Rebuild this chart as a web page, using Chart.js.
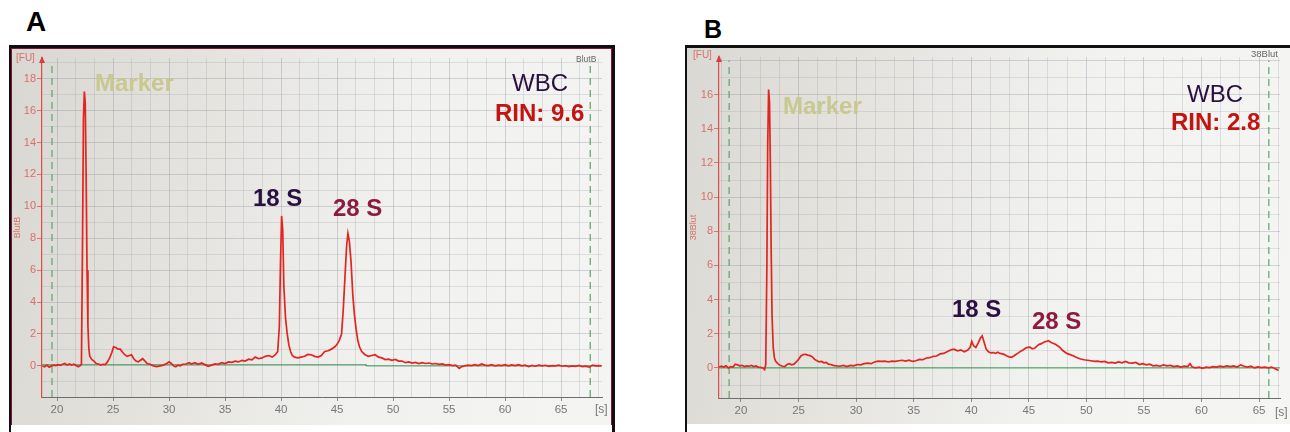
<!DOCTYPE html>
<html><head><meta charset="utf-8">
<script src="https://cdn.jsdelivr.net/npm/chart.js@4.4.1/dist/chart.umd.min.js"></script>
<style>
html,body{margin:0;padding:0;background:#fff;width:1290px;height:432px;overflow:hidden;position:relative;font-family:"Liberation Sans",Arial,sans-serif;}
.abs{position:absolute;white-space:nowrap;line-height:1;}
#frameA{position:absolute;left:9px;top:45px;width:601px;height:400px;border-style:solid;border-color:#140c12;border-width:3px 3px 0 2px;}
#grayA{position:absolute;left:11px;top:48px;width:601px;height:377px;background:linear-gradient(100deg,#d8d7d1 0%,#e4e3de 30%,#f1f1ef 62%,#f4f4f2 100%);box-shadow:inset 1px 1px 0 #7a1a38,inset -1px 0 0 #7a1a38;}
#frameB{position:absolute;left:685px;top:45px;width:610px;height:400px;border-style:solid;border-color:#111;border-width:3px 0 0 2px;}
#grayB{position:absolute;left:687px;top:48px;width:603px;height:376px;background:linear-gradient(100deg,#d9d8d2 0%,#e5e4df 30%,#f2f2f0 62%,#f5f5f3 100%);}
canvas{position:absolute;}
.big{font-size:24px;}
.b{font-weight:bold;}
</style>
</head><body>
<div id="frameA"></div><div id="grayA"></div>
<div id="frameB"></div><div id="grayB"></div>
<canvas id="cA" width="599" height="376" style="left:12px;top:49px;"></canvas>
<canvas id="cB" width="602" height="375" style="left:688px;top:49px;"></canvas>

<div class="abs b" style="left:26px;top:8.3px;font-size:28px;color:#000;">A</div>
<div class="abs b" style="left:704px;top:17px;font-size:25px;color:#000;">B</div>

<div class="abs big b" style="left:95px;top:71px;color:#c8c890;">Marker</div>
<div class="abs big b" style="left:253px;top:186px;color:#2a1040;">18 S</div>
<div class="abs big b" style="left:333px;top:196px;color:#8e1a42;">28 S</div>
<div class="abs big" style="left:512px;top:71px;color:#2a1040;">WBC</div>
<div class="abs big b" style="left:495px;top:101px;color:#c4140f;">RIN: 9.6</div>

<div class="abs big b" style="left:783px;top:94px;color:#c8c890;">Marker</div>
<div class="abs big b" style="left:952px;top:297px;color:#2a1040;">18 S</div>
<div class="abs big b" style="left:1032px;top:309px;color:#8e1a42;">28 S</div>
<div class="abs big" style="left:1187px;top:82px;color:#2a1040;">WBC</div>
<div class="abs big b" style="left:1171px;top:110px;color:#c4140f;">RIN: 2.8</div>

<div class="abs" style="left:16px;top:52.5px;font-size:10px;color:#d9706a;">[FU]</div>
<div class="abs" style="left:693px;top:49.5px;font-size:10px;color:#d9706a;">[FU]</div>
<div class="abs" style="left:595px;top:403px;font-size:12px;color:#777;">[s]</div>
<div class="abs" style="left:1275px;top:406px;font-size:12px;color:#777;">[s]</div>
<div class="abs" style="left:576px;top:55px;font-size:8.5px;color:#666;">BlutB</div>
<div class="abs" style="left:1251px;top:49px;font-size:9.5px;color:#666;">38Blut</div>

<script>
// ---------- Panel A data (time [s], fluorescence [FU]) ----------
const timesA = [
 18.7,18.9,19.1,19.3,19.5,19.7,19.9,20.1,20.3,20.5,
 20.7,20.9,21.1,21.3,21.5,21.7,21.9,22.05,22.18,22.28,
 22.36,22.44,22.52,22.6,22.68,22.76,22.84,22.92,23.1,23.3,
 23.5,23.7,23.9,24.1,24.3,24.5,24.7,24.9,25.05,25.25,
 25.45,25.65,25.85,26.05,26.25,26.45,26.65,26.85,27.05,27.25,
 27.45,27.65,27.85,28.05,28.3,28.6,28.9,29.2,29.5,29.8,
 30.0,30.2,30.4,30.6,30.8,31.0,31.2,31.5,31.8,32.0,
 32.3,32.6,32.9,33.2,33.5,33.8,34.1,34.4,34.7,35.0,
 35.3,35.6,35.9,36.2,36.5,36.8,37.1,37.4,37.7,38.0,
 38.3,38.6,38.9,39.2,39.5,39.7,39.85,39.95,40.05,40.15,
 40.25,40.4,40.55,40.7,40.85,41.0,41.2,41.5,41.8,42.1,
 42.4,42.7,43.0,43.3,43.6,43.9,44.2,44.5,44.8,45.0,
 45.2,45.4,45.55,45.7,45.85,45.97,46.1,46.25,46.4,46.55,
 46.7,46.85,47.0,47.2,47.5,47.8,48.1,48.4,48.7,49.0,
 49.3,49.6,49.9,50.2,50.5,50.8,51.1,51.4,51.7,52.0,
 52.3,52.6,52.9,53.2,53.5,53.8,54.1,54.4,54.7,55.0,
 55.3,55.6,55.9,56.1,56.4,56.7,57.0,57.3,57.6,57.9,
 58.2,58.5,58.8,59.1,59.4,59.7,60.0,60.3,60.6,60.9,
 61.2,61.5,61.8,62.1,62.4,62.7,63.0,63.3,63.6,63.9,
 64.2,64.5,64.8,65.1,65.4,65.7,66.0,66.3,66.6,66.9,
 67.2,67.5,67.8,68.1,68.4,68.6
];
const fuA = [
 0.0,-0.05,0.05,-0.08,0.0,0.05,0.02,0.08,0.03,0.1,
 0.15,0.05,0.12,0.05,0.1,0.02,-0.05,0.0,0.1,8.0,
 15.5,17.2,16.5,12.0,6.0,2.5,1.1,0.6,0.4,0.3,
 0.15,0.12,0.05,0.1,0.08,0.25,0.5,0.85,1.2,1.15,
 1.05,1.05,0.85,0.7,0.6,0.65,0.7,0.45,0.3,0.25,
 0.35,0.45,0.3,0.15,0.1,0.0,-0.05,0.0,0.05,0.15,
 0.25,0.15,0.0,-0.05,0.05,0.0,0.1,0.12,0.2,0.12,
 0.2,0.1,0.18,0.08,-0.02,0.05,0.12,0.1,0.2,0.15,
 0.25,0.22,0.3,0.25,0.35,0.3,0.42,0.38,0.55,0.45,
 0.5,0.6,0.65,0.55,0.7,0.9,2.5,6.5,9.4,8.5,
 5.0,3.0,2.0,1.3,0.9,0.65,0.55,0.5,0.55,0.6,
 0.72,0.7,0.6,0.55,0.65,0.9,0.95,1.05,1.2,1.35,
 1.6,2.0,3.5,5.5,7.5,8.3,7.8,6.5,4.5,3.2,
 2.3,1.6,1.2,0.9,0.7,0.6,0.65,0.7,0.55,0.5,
 0.4,0.42,0.35,0.4,0.3,0.3,0.2,0.25,0.18,0.22,
 0.15,0.2,0.15,0.18,0.12,0.15,0.1,0.12,0.05,0.08,
 0.02,0.05,-0.15,-0.05,0.0,0.05,0.02,0.08,0.02,0.12,
 0.05,0.02,0.08,0.0,0.05,0.02,0.08,0.0,0.06,0.02,
 0.08,0.0,0.04,-0.05,0.03,-0.02,0.05,0.0,0.04,-0.03,
 0.02,0.0,0.05,-0.02,0.02,-0.05,0.0,-0.03,0.03,-0.05,
 -0.02,-0.08,0.05,0.0,0.02,0.0
];
// ---------- Panel B data ----------
const timesB = [
 18.1,18.3,18.5,18.7,18.9,19.1,19.3,19.5,19.7,19.9,
 20.1,20.3,20.5,20.7,20.9,21.1,21.3,21.5,21.7,21.9,
 22.05,22.15,22.25,22.32,22.4,22.48,22.55,22.62,22.7,22.8,
 22.9,23.0,23.2,23.4,23.6,23.8,24.0,24.2,24.4,24.6,
 24.8,25.0,25.2,25.4,25.6,25.8,26.0,26.2,26.4,26.6,
 26.8,27.0,27.2,27.4,27.6,27.8,28.0,28.3,28.6,28.9,
 29.2,29.5,29.8,30.1,30.4,30.7,31.0,31.3,31.6,31.9,
 32.2,32.5,32.8,33.1,33.4,33.7,34.0,34.3,34.6,34.9,
 35.2,35.5,35.8,36.1,36.4,36.7,37.0,37.3,37.6,37.9,
 38.2,38.5,38.8,39.1,39.4,39.7,39.9,40.05,40.2,40.4,
 40.6,40.8,40.95,41.1,41.3,41.5,41.7,41.9,42.1,42.3,
 42.5,42.7,42.9,43.1,43.3,43.5,43.7,43.9,44.1,44.3,
 44.5,44.7,44.9,45.1,45.3,45.5,45.7,45.9,46.1,46.3,
 46.5,46.7,46.9,47.1,47.3,47.5,47.7,47.9,48.1,48.3,
 48.6,48.9,49.2,49.5,49.8,50.1,50.4,50.7,51.0,51.3,
 51.6,51.9,52.2,52.5,52.8,53.1,53.4,53.7,54.0,54.3,
 54.6,54.9,55.2,55.5,55.8,56.1,56.4,56.7,57.0,57.3,
 57.6,57.9,58.2,58.5,58.8,59.0,59.2,59.5,59.8,60.1,
 60.4,60.7,61.0,61.3,61.6,61.9,62.2,62.5,62.8,63.1,
 63.4,63.7,64.0,64.3,64.6,64.9,65.2,65.5,65.8,66.1,
 66.4,66.7
];
const fuB = [
 0.05,0.1,0.05,0.12,0.0,0.08,0.05,0.22,0.18,0.12,
 0.15,0.08,0.12,0.1,0.15,0.08,0.12,0.05,0.03,0.0,
 -0.1,0.2,6.0,13.0,16.3,15.5,12.0,7.0,3.0,1.2,
 0.6,0.4,0.25,0.15,0.1,0.08,0.2,0.25,0.18,0.22,
 0.35,0.5,0.7,0.78,0.8,0.75,0.72,0.65,0.5,0.42,
 0.35,0.38,0.3,0.32,0.22,0.2,0.15,0.12,0.1,0.15,
 0.08,0.15,0.12,0.2,0.18,0.25,0.28,0.25,0.35,0.4,
 0.38,0.4,0.35,0.4,0.38,0.42,0.45,0.4,0.45,0.38,
 0.42,0.5,0.48,0.58,0.6,0.68,0.7,0.82,0.85,0.95,
 1.05,1.1,1.0,1.05,0.95,1.05,1.2,1.55,1.3,1.2,
 1.45,1.75,1.88,1.55,1.1,0.95,0.88,0.9,0.85,0.92,
 0.85,0.82,0.78,0.7,0.65,0.62,0.7,0.8,0.88,0.98,
 1.05,1.15,1.2,1.22,1.12,1.15,1.28,1.38,1.42,1.5,
 1.55,1.6,1.5,1.45,1.38,1.3,1.2,1.05,0.95,0.85,
 0.78,0.7,0.6,0.52,0.48,0.45,0.42,0.38,0.4,0.35,
 0.38,0.3,0.32,0.28,0.35,0.3,0.38,0.3,0.28,0.32,
 0.2,0.25,0.18,0.22,0.12,0.15,0.1,0.18,0.12,0.15,
 0.08,0.12,0.05,0.1,0.08,0.25,0.05,0.0,0.05,-0.02,
 0.05,0.02,0.08,0.05,0.1,0.06,0.12,0.08,0.12,0.05,
 0.18,0.1,0.05,0.1,0.0,0.06,0.02,0.05,0.0,0.05,
 -0.05,-0.15
];
// ---------- axes / reference marks ----------
const xTickLabels = [20,25,30,35,40,45,50,55,60,65];
const yTickLabelsA = [0,2,4,6,8,10,12,14,16,18];
const yTickLabelsB = [0,2,4,6,8,10,12,14,16];
const xRangeA = [18.66, 68.65];
const xRangeB = [18.09, 66.82];
const yRangeA = [-1.95, 19.3];
const yRangeB = [-1.76, 18.2];
const markerLinesA = [19.55, 67.6];
const markerLinesB = [18.97, 65.85];
const baselineTimesA = [18.66, 47.6, 47.6, 68.65];
const baselineA = [0.07, 0.07, 0.0, 0.0];
const baselineTimesB = [18.09, 66.82];
const baselineB = [0.0, 0.0];

const near = (a, v) => a.some(l => Math.abs(l - v) < 1e-6);

const arrowPlugin = {
  id: 'yarrow',
  afterDraw(chart) {
    const ca = chart.chartArea, ctx = chart.ctx;
    ctx.save();
    ctx.fillStyle = '#e03a3a';
    ctx.beginPath();
    ctx.moveTo(ca.left, ca.top - 2);
    ctx.lineTo(ca.left - 3, ca.top + 5);
    ctx.lineTo(ca.left + 3, ca.top + 5);
    ctx.closePath();
    ctx.fill();
    ctx.restore();
  }
};

function build(id, times, vals, xr, yr, yLabels, marks, bT, bV, yTitle, pad, yW, xH) {
  const trace = times.map((t, i) => ({x: t, y: vals[i]}));
  const base = bT.map((t, i) => ({x: t, y: bV[i]}));
  const dashTop = Math.floor(yr[1]);
  const datasets = [
    {data: trace, borderColor: '#e3241f', borderWidth: 1.7, pointRadius: 0, tension: 0, order: 0},
    {data: base, borderColor: '#3c9a57', borderWidth: 1, pointRadius: 0, tension: 0, order: 2}
  ];
  marks.forEach(m => datasets.push({
    data: [{x: m, y: yr[0]}, {x: m, y: dashTop}],
    borderColor: '#5aa568', borderWidth: 1.2, borderDash: [7, 5], pointRadius: 0, order: 3
  }));
  new Chart(document.getElementById(id), {
    type: 'line',
    data: {datasets},
    options: {
      responsive: false, animation: false, events: [],
      layout: {padding: pad},
      plugins: {legend: {display: false}, tooltip: {enabled: false}},
      scales: {
        x: {
          type: 'linear', min: xr[0], max: xr[1],
          afterBuildTicks: s => {
            const t = [];
            for (let k = -3; k < 40; k++) {
              const v = 20 + k * 5 / 3;
              if (v >= xr[0] && v <= xr[1]) t.push({value: v});
            }
            s.ticks = t;
          },
          afterFit: s => { s.height = xH; },
          ticks: {
            autoSkip: false, maxRotation: 0, minRotation: 0, padding: 2,
            color: '#777', font: {family: 'Liberation Sans', size: 11.5},
            callback: v => near(xTickLabels, v) ? String(Math.round(v)) : ''
          },
          grid: {
            color: c => (c.tick && near(xTickLabels, c.tick.value)) ? 'rgba(140,145,160,0.36)' : 'rgba(150,155,170,0.26)',
            lineWidth: 1, tickLength: 4,
            tickColor: c => (c.tick && near(xTickLabels, c.tick.value)) ? '#8a8a8a' : 'rgba(0,0,0,0)'
          },
          border: {color: '#6d6d6d', width: 1}
        },
        y: {
          type: 'linear', min: yr[0], max: yr[1],
          afterBuildTicks: s => {
            const t = [];
            for (let v = Math.ceil(yr[0]); v <= yr[1]; v++) t.push({value: v});
            s.ticks = t;
          },
          afterFit: s => { s.width = yW; },
          ticks: {
            autoSkip: false, padding: 1,
            color: '#d9706a', font: {family: 'Liberation Sans', size: 11},
            callback: v => near(yLabels, v) ? String(v) : ''
          },
          title: {display: true, text: yTitle, color: '#d9706a', font: {family: 'Liberation Sans', size: 9}, padding: {top: 0, bottom: 0}},
          grid: {
            color: c => (c.tick && Math.abs(c.tick.value % 2) < 1e-6) ? 'rgba(140,145,160,0.34)' : 'rgba(150,155,170,0.24)',
            lineWidth: 1, tickLength: 5,
            tickColor: c => (c.tick && near(yLabels, c.tick.value)) ? '#e07070' : 'rgba(0,0,0,0)'
          },
          border: {color: '#e04a4a', width: 1.2}
        }
      }
    },
    plugins: [arrowPlugin]
  });
}

build('cA', timesA, fuA, xRangeA, yRangeA, yTickLabelsA, markerLinesA, baselineTimesA, baselineA, 'BlutB',
      {top: 9, right: 9, left: 0, bottom: 0}, 30, 28);
build('cB', timesB, fuB, xRangeB, yRangeB, yTickLabelsB, markerLinesB, baselineTimesB, baselineB, '38Blut',
      {top: 8, right: 10, left: 0, bottom: 0}, 31, 26);
</script>
</body></html>
